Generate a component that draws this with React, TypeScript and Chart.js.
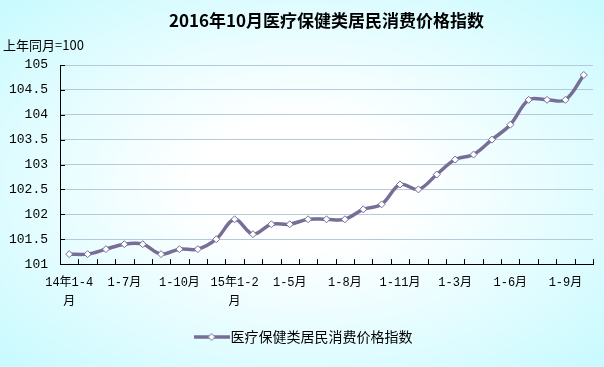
import React, { useEffect, useRef } from "react";
import { Chart, registerables } from "chart.js";

Chart.register(...registerables);

const titleText = "2016年10月医疗保健类居民消费价格指数";
const yUnitText = "上年同月=100";
const seriesName = "医疗保健类居民消费价格指数";

const categories = [
  "14年1-4月", "14年1-5月", "14年1-6月", "14年1-7月", "14年1-8月", "14年1-9月", "14年1-10月", "14年1-11月", "14年1-12月",
  "15年1-2月", "15年1-3月", "15年1-4月", "15年1-5月", "15年1-6月", "15年1-7月", "15年1-8月", "15年1-9月", "15年1-10月", "15年1-11月", "15年1-12月",
  "16年1-2月", "16年1-3月", "16年1-4月", "16年1-5月", "16年1-6月", "16年1-7月", "16年1-8月", "16年1-9月", "16年1-10月",
];

const tickLabels: (string | string[])[] = [
  ["14年1-4", "月"], "", "", "1-7月", "", "", "1-10月", "", "",
  ["15年1-2", "月"], "", "", "1-5月", "", "", "1-8月", "", "", "1-11月", "",
  "", "1-3月", "", "", "1-6月", "", "", "1-9月", "",
];

const values = [
  101.2, 101.2, 101.3, 101.4, 101.4, 101.2, 101.3, 101.3, 101.5,
  101.9, 101.6, 101.8, 101.8, 101.9, 101.9, 101.9, 102.1, 102.2, 102.6, 102.5,
  102.8, 103.1, 103.2, 103.5, 103.8, 104.3, 104.3, 104.3, 104.8,
];

const yMin = 101;
const yMax = 105;
const yStep = 0.5;

const LINE_COLOR = "#776e98";
const GRID_COLOR = "#b4cad8";
const MONO = "'Liberation Mono', 'Noto Sans CJK SC', monospace";
const CJK = "'Noto Sans CJK SC', sans-serif";
const LEGEND_SHIFT = 8;

const innerTicks = {
  id: "innerTicks",
  afterLayout(chart: any) {
    const lg = chart.legend;
    if (lg) {
      lg.left += LEGEND_SHIFT;
      lg.right += LEGEND_SHIFT;
    }
  },
  beforeDatasetsDraw(chart: any) {
    const { ctx, chartArea, scales } = chart;
    const x = scales.x;
    const y = scales.y;
    ctx.save();
    ctx.strokeStyle = "#000";
    ctx.lineWidth = 1;
    ctx.beginPath();
    y.ticks.forEach((_: any, i: number) => {
      const py = Math.round(y.getPixelForTick(i)) + 0.5;
      ctx.moveTo(chartArea.left, py);
      ctx.lineTo(chartArea.left + 5, py);
    });
    const n = categories.length;
    const step = x.getPixelForValue(1) - x.getPixelForValue(0);
    const first = x.getPixelForValue(0);
    for (let i = 0; i <= n; i++) {
      const px = Math.round(first + (i - 0.5) * step) + 0.5;
      ctx.moveTo(px, chartArea.bottom);
      ctx.lineTo(px, chartArea.bottom - 5);
    }
    ctx.stroke();
    ctx.restore();
  },
  afterDraw(chart: any) {
    const { ctx, chartArea } = chart;
    ctx.save();
    ctx.fillStyle = "#000";
    ctx.font = `13px ${CJK}`;
    ctx.textAlign = "left";
    ctx.textBaseline = "middle";
    ctx.fillText(yUnitText, chartArea.left - 57, chartArea.top - 20);
    ctx.restore();
  },
};

export default function App() {
  const canvasRef = useRef<HTMLCanvasElement | null>(null);

  useEffect(() => {
    document.body.style.margin = "0";
    const canvas = canvasRef.current;
    if (!canvas) return;

    const icon = document.createElement("canvas");
    icon.width = 36;
    icon.height = 10;
    const ictx = icon.getContext("2d")!;
    ictx.strokeStyle = LINE_COLOR;
    ictx.lineWidth = 3.5;
    ictx.beginPath();
    ictx.moveTo(0, 5);
    ictx.lineTo(36, 5);
    ictx.stroke();
    ictx.fillStyle = "#fff";
    ictx.lineWidth = 1;
    ictx.beginPath();
    ictx.moveTo(18, 1.5);
    ictx.lineTo(21.5, 5);
    ictx.lineTo(18, 8.5);
    ictx.lineTo(14.5, 5);
    ictx.closePath();
    ictx.fill();
    ictx.stroke();

    const chart = new Chart(canvas, {
      type: "line",
      data: {
        labels: categories,
        datasets: [
          {
            label: seriesName,
            data: values,
            borderColor: LINE_COLOR,
            borderWidth: 3.5,
            tension: 0.35,
            pointStyle: "rectRot",
            pointRadius: 3.5,
            pointBackgroundColor: "#ffffff",
            pointBorderColor: LINE_COLOR,
            pointBorderWidth: 1,
            fill: false,
          },
        ],
      },
      options: {
        responsive: false,
        animation: false,
        devicePixelRatio: 1,
        layout: { padding: { left: 3, right: 11, top: 0, bottom: 13 } },
        plugins: {
          title: {
            display: true,
            text: titleText,
            fullSize: false,
            color: "#000",
            font: { family: CJK, size: 17, weight: "bold", lineHeight: 1.2 },
            padding: { top: 10, bottom: 34.6 },
          },
          legend: {
            display: true,
            position: "bottom",
            labels: {
              usePointStyle: true,
              pointStyleWidth: 24,
              color: "#000",
              font: { family: CJK, size: 14 },
              padding: 10,
              generateLabels: (c: any) =>
                c.data.datasets.map((ds: any, i: number) => ({
                  text: ds.label,
                  pointStyle: icon,
                  fillStyle: "#fff",
                  strokeStyle: LINE_COLOR,
                  lineWidth: 0,
                  hidden: false,
                  datasetIndex: i,
                  fontColor: "#000",
                })),
            },
          },
          tooltip: { enabled: false },
        },
        scales: {
          x: {
            type: "category",
            offset: true,
            grid: { display: true, color: "rgba(0,0,0,0)", drawTicks: false, offset: true },
            border: { display: true, color: "#000", width: 1 },
            ticks: {
              autoSkip: false,
              maxRotation: 0,
              minRotation: 0,
              padding: 9,
              color: "#000",
              font: { family: MONO, size: 12, lineHeight: 1.58 },
              callback: (_v: any, i: number) => tickLabels[i],
            },
          },
          y: {
            min: yMin,
            max: yMax,
            afterFit: (scale: any) => {
              scale.width = 57;
            },
            grid: {
              drawTicks: false,
              color: (ctx: any) => (ctx.tick && ctx.tick.value === yMin ? "rgba(0,0,0,0)" : GRID_COLOR),
            },
            border: { display: true, color: "#000", width: 1 },
            ticks: {
              stepSize: yStep,
              padding: 12,
              color: "#000",
              font: { family: MONO, size: 13 },
              callback: (v: any) => String(Math.round(Number(v) * 10) / 10),
            },
          },
        },
      },
      plugins: [innerTicks],
    });

    return () => chart.destroy();
  }, []);

  return (
    <div
      style={{
        width: 604,
        height: 367,
        position: "relative",
        background:
          "radial-gradient(ellipse 70% 70% at 50% 50%, #ffffff 25%, #eafdff 55%, #c8fafe 100%)",
      }}
    >
      <canvas ref={canvasRef} width={604} height={367} style={{ display: "block" }} />
    </div>
  );
}
